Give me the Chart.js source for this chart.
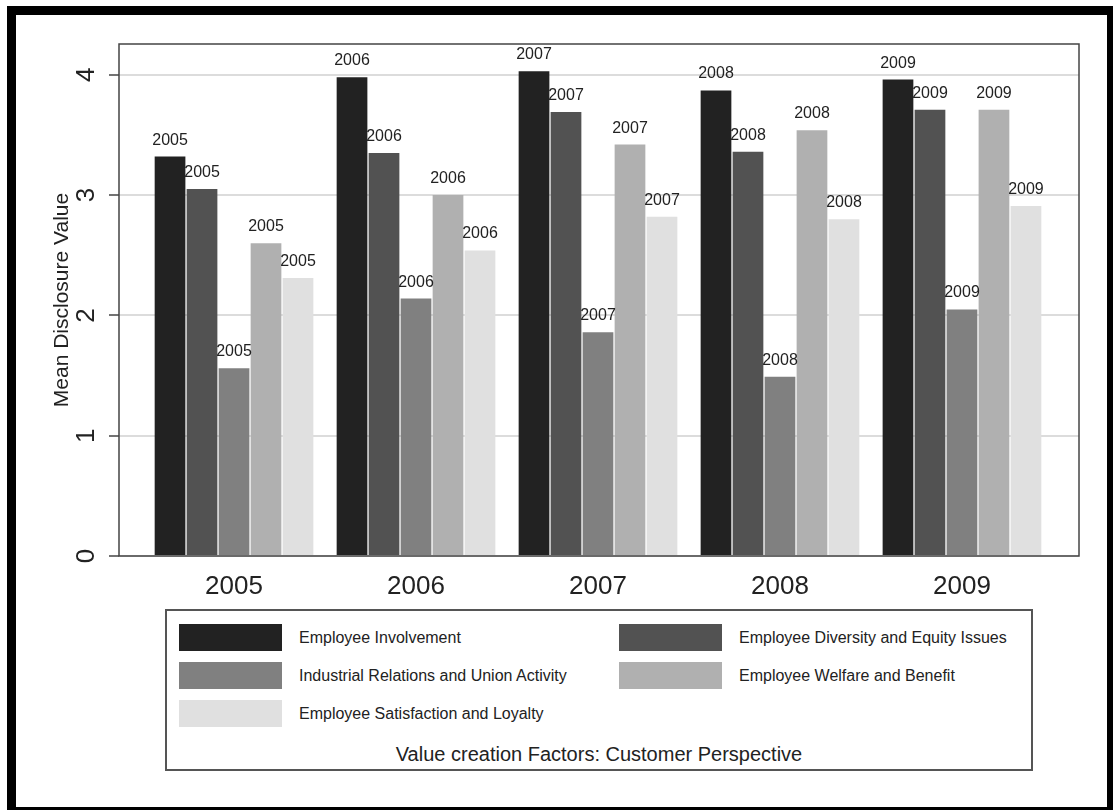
<!DOCTYPE html>
<html>
<head>
<meta charset="utf-8">
<title>Mean Disclosure Value</title>
<script src="https://cdn.jsdelivr.net/npm/chart.js@4.4.1/dist/chart.umd.min.js"></script>
<style>
  html, body { margin: 0; padding: 0; background: #fff; }
  body {
    width: 1113px; height: 810px; position: relative; overflow: hidden;
    font-family: "Liberation Sans", Arial, sans-serif; color: #222;
  }
  #wrap { position: absolute; left: 0; top: 0; width: 1113px; height: 810px; }
  #frame {
    position: absolute; left: 7px; top: 6px; width: 1109px; height: 810px;
    border: 9px solid #000; box-sizing: border-box; pointer-events: none;
  }
  #legend {
    position: absolute; left: 165px; top: 609px; width: 868px; height: 162px;
    border: 2px solid #555; box-sizing: border-box; background: #fff;
  }
  .item { position: absolute; display: flex; align-items: center; height: 27px; font-size: 16px; }
  .swatch { width: 103px; height: 27px; margin-right: 17px; }
  #legend-title {
    position: absolute; left: 0; right: 0; top: 131px;
    text-align: center; font-size: 20px; line-height: 24px;
  }
</style>
</head>
<body>
<div id="wrap"><canvas id="chart" width="1113" height="810"></canvas></div>
<div id="legend"></div>
<div id="frame"></div>

<script>
// --- data ---
const years = [2005, 2006, 2007, 2008, 2009];
const seriesNames = [
  'Employee Involvement',
  'Employee Diversity and Equity Issues',
  'Industrial Relations and Union Activity',
  'Employee Welfare and Benefit',
  'Employee Satisfaction and Loyalty'
];
const involvement  = [3.32, 3.98, 4.03, 3.87, 3.96];
const diversity    = [3.05, 3.35, 3.69, 3.36, 3.71];
const industrial   = [1.56, 2.14, 1.86, 1.49, 2.05];
const welfare      = [2.60, 3.00, 3.42, 3.54, 3.71];
const satisfaction = [2.31, 2.54, 2.82, 2.80, 2.91];
const yTicks = [0, 1, 2, 3, 4];
const yTitle = 'Mean Disclosure Value';
const legendTitle = 'Value creation Factors: Customer Perspective';

const barColors = ['#222222', '#525252', '#808080', '#b0b0b0', '#e0e0e0'];

Chart.defaults.font.family = '"Liberation Sans", Arial, sans-serif';
Chart.defaults.color = '#222';

// year label above every bar
const yearLabels = {
  id: 'yearLabels',
  afterDatasetsDraw(chart) {
    const ctx = chart.ctx;
    ctx.save();
    ctx.font = '16px "Liberation Sans", Arial, sans-serif';
    ctx.fillStyle = '#222';
    ctx.textAlign = 'center';
    ctx.textBaseline = 'alphabetic';
    chart.data.datasets.forEach((ds, i) => {
      chart.getDatasetMeta(i).data.forEach((bar, j) => {
        ctx.fillText(String(years[j]), bar.x, bar.y - 12);
      });
    });
    ctx.restore();
  }
};

// box round the plot region
const plotFrame = {
  id: 'plotFrame',
  afterDatasetsDraw(chart) {
    const a = chart.chartArea, ctx = chart.ctx;
    ctx.save();
    ctx.strokeStyle = '#444';
    ctx.lineWidth = 1.5;
    ctx.strokeRect(a.left, a.top, a.right - a.left, a.bottom - a.top);
    ctx.restore();
  }
};

const seriesValues = [involvement, diversity, industrial, welfare, satisfaction];

const chart = new Chart(document.getElementById('chart'), {
  type: 'bar',
  data: {
    datasets: seriesValues.map((vals, i) => ({
      label: seriesNames[i],
      data: vals.map((v, j) => ({ x: years[j], y: v })),
      backgroundColor: barColors[i],
      borderWidth: 0,
      categoryPercentage: 0.879,
      barPercentage: 0.96
    }))
  },
  options: {
    responsive: false,
    animation: false,
    layout: { padding: { top: 44, right: 34, left: 0, bottom: 0 } },
    plugins: { legend: { display: false }, tooltip: { enabled: false } },
    scales: {
      x: {
        type: 'linear',
        min: 2004.368,
        max: 2009.643,
        offset: false,
        afterBuildTicks: s => { s.ticks = years.map(v => ({ value: v })); },
        afterFit: s => { s.height = 254; },
        ticks: {
          callback: v => String(v),
          font: { size: 26 },
          color: '#222',
          padding: 15,
          maxRotation: 0,
          autoSkip: false
        },
        grid: { display: false, drawTicks: false },
        border: { display: false }
      },
      y: {
        min: 0,
        max: 4.256,
        afterBuildTicks: s => { s.ticks = yTicks.map(v => ({ value: v })); },
        afterFit: s => { s.width = 119; },
        ticks: {
          font: { size: 26 },
          color: '#222',
          minRotation: 90,
          maxRotation: 90,
          crossAlign: 'center',
          padding: 15
        },
        grid: { color: '#dcdcdc', lineWidth: 2, tickColor: '#444', tickLength: 10, tickWidth: 1.5 },
        border: { display: false },
        title: {
          display: true,
          text: yTitle,
          font: { size: 21 },
          color: '#222',
          padding: { top: 50, bottom: 0 }
        }
      }
    }
  },
  plugins: [yearLabels, plotFrame]
});

// legend in two columns, built from the chart's datasets
const legend = document.getElementById('legend');
const colLeft = [12, 452];
const rowTop = [13, 51, 89];
chart.data.datasets.forEach((ds, i) => {
  const item = document.createElement('div');
  item.className = 'item';
  item.style.left = colLeft[i % 2] + 'px';
  item.style.top = rowTop[Math.floor(i / 2)] + 'px';
  const sw = document.createElement('span');
  sw.className = 'swatch';
  sw.style.background = ds.backgroundColor;
  const txt = document.createElement('span');
  txt.textContent = ds.label;
  item.appendChild(sw);
  item.appendChild(txt);
  legend.appendChild(item);
});
const lt = document.createElement('div');
lt.id = 'legend-title';
lt.textContent = legendTitle;
legend.appendChild(lt);
</script>
</body>
</html>
